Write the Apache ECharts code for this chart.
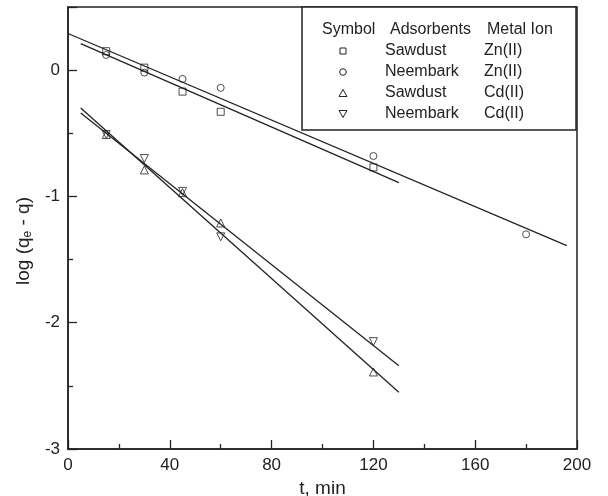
<!DOCTYPE html>
<html>
<head>
<meta charset="utf-8">
<script src="https://cdn.jsdelivr.net/npm/echarts@6/dist/echarts.min.js"></script>
<style>
  html, body { margin: 0; padding: 0; background: #fff; }
  #chart { width: 608px; height: 496px; }
</style>
</head>
<body>
<div id="chart"></div>
<script>
// time points (min)
const tSawdustZn = [15, 30, 45, 60, 120]
const tNeembarkZn = [15, 30, 45, 60, 120, 180]
const tSawdustCd = [15, 30, 45, 60, 120]
const tNeembarkCd = [15, 30, 45, 60, 120]

// log (qe - q)
const sawdustZn = [0.15, 0.02, -0.17, -0.33, -0.77]
const neembarkZn = [0.12, -0.02, -0.07, -0.14, -0.68, -1.30]
const sawdustCd = [-0.51, -0.79, -0.97, -1.21, -2.39]
const neembarkCd = [-0.51, -0.70, -0.96, -1.32, -2.15]

// fitted lines, [t, value] at both ends
const fitSawdustZn = [[5, 0.21], [130, -0.89]]
const fitNeembarkZn = [[0, 0.29], [196, -1.39]]
const fitSawdustCd = [[5, -0.30], [130, -2.55]]
const fitNeembarkCd = [[5, -0.34], [130, -2.34]]

const legendRows = [
  ['Sawdust', 'Zn(II)'],
  ['Neembark', 'Zn(II)'],
  ['Sawdust', 'Cd(II)'],
  ['Neembark', 'Cd(II)']
]

const ink = '#222'
const font = 'Liberation Sans, Arial, sans-serif'

const pairs = (xs, ys) => xs.map((x, i) => [x, ys[i]])

const chart = echarts.init(document.getElementById('chart'))

function scatter(xs, ys, symbol, size, rotate) {
  return {
    type: 'scatter',
    data: pairs(xs, ys),
    symbol: symbol,
    symbolSize: size,
    symbolRotate: rotate || 0,
    itemStyle: { color: 'rgba(0,0,0,0)', borderColor: ink, borderWidth: 1 },
    z: 3
  }
}

function fit(points) {
  return {
    type: 'line',
    data: points,
    symbol: 'none',
    lineStyle: { color: ink, width: 1.3 },
    z: 2
  }
}

// legend box drawn as graphic
const legendGraphics = [
  {
    type: 'rect',
    shape: { x: 302, y: 7, width: 274, height: 123 },
    style: { fill: '#fff', stroke: ink, lineWidth: 1.5 },
    z: 10
  },
  { type: 'text', left: 322, top: 22, style: { text: 'Symbol', font: '16px ' + font, fill: ink }, z: 11 },
  { type: 'text', left: 390, top: 22, style: { text: 'Adsorbents', font: '16px ' + font, fill: ink }, z: 11 },
  { type: 'text', left: 487, top: 22, style: { text: 'Metal Ion', font: '16px ' + font, fill: ink }, z: 11 }
]
const markerShapes = [
  { type: 'rect', shape: { x: 340, y: 48, width: 6, height: 6 } },
  { type: 'circle', shape: { cx: 343, cy: 72, r: 3.3 } },
  { type: 'polygon', shape: { points: [[343, 89.5], [339, 96.5], [347, 96.5]] } },
  { type: 'polygon', shape: { points: [[339, 110.5], [347, 110.5], [343, 117.5]] } }
]
markerShapes.forEach(s => {
  legendGraphics.push(Object.assign(s, { style: { fill: 'none', stroke: ink, lineWidth: 1 }, z: 11 }))
})
legendRows.forEach((row, i) => {
  const y = 43 + i * 21
  legendGraphics.push({ type: 'text', left: 385, top: y, style: { text: row[0], font: '16px ' + font, fill: ink }, z: 11 })
  legendGraphics.push({ type: 'text', left: 484, top: y, style: { text: row[1], font: '16px ' + font, fill: ink }, z: 11 })
})

chart.setOption({
  animation: false,
  backgroundColor: '#fff',
  textStyle: { fontFamily: font },
  grid: {
    left: 68,
    top: 7,
    right: 31,
    bottom: 47,
    outerBoundsMode: 'none',
    show: true,
    borderColor: ink,
    borderWidth: 1.5
  },
  xAxis: {
    type: 'value',
    min: 0,
    max: 200,
    interval: 40,
    name: 't, min',
    nameLocation: 'middle',
    nameGap: 24,
    nameTextStyle: { fontSize: 19, color: ink },
    axisLine: { onZero: false, lineStyle: { color: ink, width: 1.5 } },
    axisTick: { inside: true, length: 9, lineStyle: { color: ink, width: 1.3 } },
    minorTick: { show: true, splitNumber: 2, length: 5, lineStyle: { color: ink, width: 1.3 } },
    axisLabel: { fontSize: 17, color: ink, margin: 8 },
    splitLine: { show: false }
  },
  yAxis: {
    type: 'value',
    min: -3,
    max: 0.5,
    interval: 1,
    name: 'log (q{sub|e} - q)',
    nameLocation: 'middle',
    nameGap: 30,
    nameTextStyle: {
      fontSize: 19,
      color: ink,
      padding: [0, 26, 0, 0],
      rich: {
        sub: { fontSize: 12, verticalAlign: 'bottom', padding: [9, 0, 0, 0], color: ink }
      }
    },
    axisLine: { onZero: false, lineStyle: { color: ink, width: 1.5 } },
    axisTick: { inside: true, length: 9, lineStyle: { color: ink, width: 1.3 } },
    minorTick: { show: true, splitNumber: 2, length: 5, lineStyle: { color: ink, width: 1.3 } },
    axisLabel: { fontSize: 17, color: ink, margin: 8, showMaxLabel: false },
    splitLine: { show: false }
  },
  graphic: legendGraphics,
  series: [
    fit(fitSawdustZn),
    fit(fitNeembarkZn),
    fit(fitSawdustCd),
    fit(fitNeembarkCd),
    scatter(tSawdustZn, sawdustZn, 'rect', 7),
    scatter(tNeembarkZn, neembarkZn, 'circle', 7),
    scatter(tSawdustCd, sawdustCd, 'triangle', 8),
    scatter(tNeembarkCd, neembarkCd, 'triangle', 8, 180)
  ]
})
</script>
</body>
</html>
